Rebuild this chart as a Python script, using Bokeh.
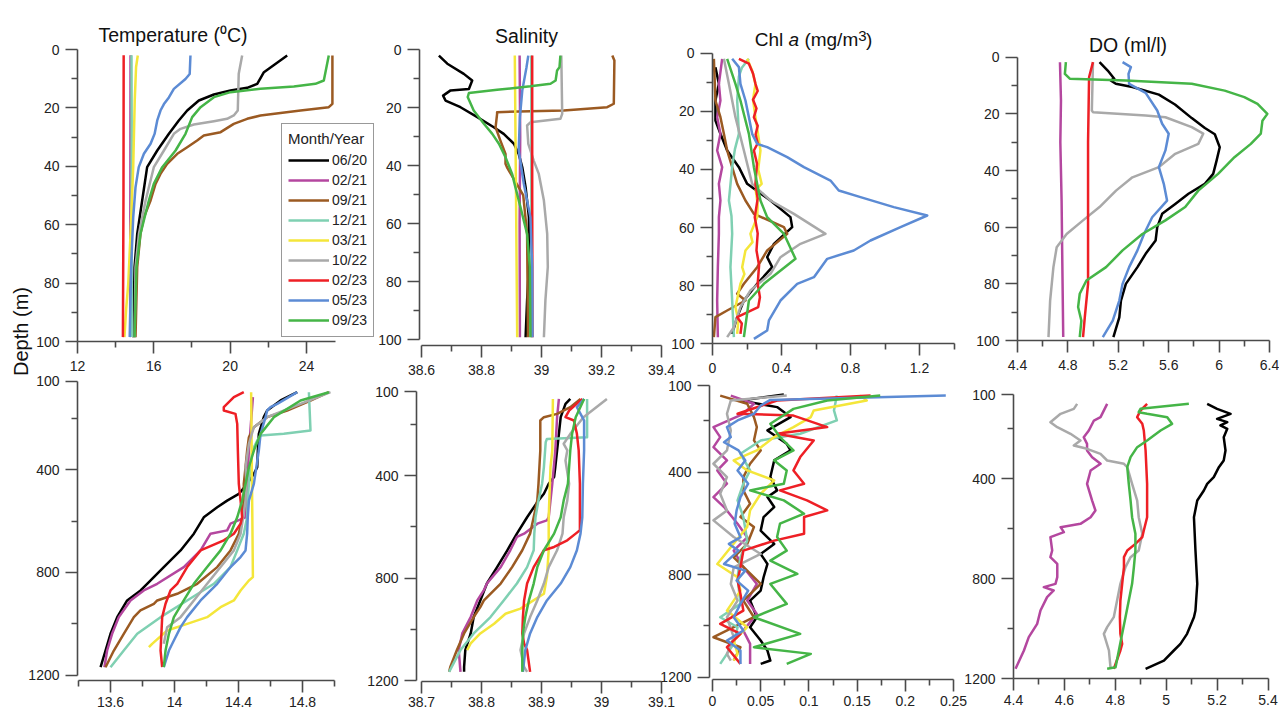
import math
from bokeh.plotting import figure
from bokeh.models import (Range1d, LinearAxis, FixedTicker, PrintfTickFormatter,
                          Legend, LegendItem, Label)
from bokeh.embed import file_html
from bokeh.resources import INLINE

# ---------------------------------------------------------------- series
MONTHS = ["06/20", "02/21", "09/21", "12/21", "03/21", "10/22", "02/23", "05/23", "09/23"]
COLORS = ["#000000", "#b4479f", "#9b5a22", "#7fd0b2", "#f4e63a",
          "#a9a9a9", "#ee1f25", "#5c8bd4", "#45b547"]

# (depth m, value) pairs
# --- Temperature 0-100 m
T_UP_0620 = [(2.05, 22.99), (7.76, 21.77), (11.76, 21.42), (13.13, 20.89), (14.0, 20.02), (15.41, 19.15),
             (17.47, 18.36), (20.89, 17.75), (24.32, 17.31), (28.88, 16.79), (34.59, 16.18), (40.3, 15.65),
             (51.71, 15.39), (63.13, 15.13), (74.54, 14.99), (98.52, 14.92)]
T_UP_0221 = [(2.0, 14.78), (50.0, 14.77), (98.5, 14.76)]
T_UP_0921 = [(2.05, 25.36), (18.6, 25.36), (19.75, 25.17), (20.89, 23.69), (22.6, 21.59), (23.74, 20.89),
             (25.46, 20.19), (28.31, 19.5), (29.45, 18.62), (31.16, 18.27), (33.45, 17.75), (35.73, 17.23),
             (39.16, 16.7), (42.58, 16.35), (46.0, 16.09), (51.71, 15.83), (57.42, 15.48), (63.13, 15.3),
             (74.54, 15.13), (98.52, 15.04)]
T_UP_1221 = [(2.0, 14.83), (30.0, 14.84), (60.0, 14.83), (98.5, 14.85)]
T_UP_0321 = [(2.05, 15.16), (6.0, 15.07), (17.5, 15.0), (40.3, 14.92), (63.1, 14.78), (80.3, 14.66),
             (88.9, 14.55), (98.5, 14.46)]
T_UP_1022 = [(2.05, 20.63), (8.33, 20.45), (20.89, 20.4), (22.6, 20.19), (23.74, 19.84), (24.54, 19.15),
             (25.68, 18.1), (27.17, 17.4), (28.88, 17.05), (34.59, 16.53), (40.3, 16.0), (51.71, 15.57),
             (63.13, 15.22), (74.54, 15.04), (98.52, 14.99)]
T_UP_0223 = [(2.0, 14.42), (50.0, 14.41), (98.5, 14.38)]
T_UP_0523 = [(2.05, 17.92), (8.4, 17.88), (10.1, 17.66), (13.5, 17.05), (16.4, 16.79), (18.7, 16.53),
             (20.9, 16.35), (24.3, 16.18), (28.9, 16.04), (32.3, 15.83), (35.7, 15.48), (40.3, 15.21),
             (47.2, 15.04), (57.5, 14.92), (74.6, 14.81), (98.5, 14.74)]
T_UP_0923 = [(2.05, 25.17), (10.62, 24.91), (11.76, 24.47), (12.67, 23.34), (13.47, 21.59), (14.61, 20.02),
             (16.32, 19.15), (19.75, 18.45), (23.17, 18.01), (28.88, 17.66), (34.59, 17.14), (40.3, 16.44),
             (46.0, 16.0), (51.71, 15.74), (63.13, 15.3), (74.54, 15.09), (98.52, 14.99)]

# --- Salinity 0-100 m
S_UP_0620 = [(2.0, 38.658), (4.8, 38.686), (8.3, 38.741), (10.6, 38.769), (13.5, 38.758), (14.0, 38.697),
             (15.8, 38.672), (17.5, 38.68), (19.8, 38.73), (23.2, 38.786), (26.7, 38.841), (29.0, 38.874),
             (32.4, 38.908), (35.9, 38.924), (40.5, 38.936), (47.4, 38.947), (57.7, 38.958), (74.9, 38.958),
             (86.4, 38.952), (99.1, 38.947)]
S_UP_0221 = [(2.0, 38.927), (30.0, 38.929), (60.0, 38.927), (99.1, 38.928)]
S_UP_0921 = [(2.0, 39.236), (3.7, 39.243), (18.6, 39.241), (19.8, 39.219), (20.9, 39.074), (21.5, 38.852),
             (22.1, 38.852), (26.7, 38.847), (31.3, 38.863), (35.9, 38.88), (39.3, 38.88), (40.5, 38.885),
             (50.1, 38.939), (63.5, 38.952), (99.1, 38.955)]
S_UP_1221 = [(2.0, 38.966), (99.1, 38.966)]
S_UP_0321 = [(2.0, 38.911), (50.0, 38.915), (99.1, 38.919)]
S_UP_1022 = [(2.0, 39.066), (22.1, 39.069), (23.8, 39.063), (25.0, 38.963), (26.1, 38.952), (32.4, 38.956),
             (38.2, 38.974), (42.8, 38.991), (52.0, 39.008), (63.5, 39.019), (74.9, 39.021), (86.4, 39.013),
             (99.1, 39.008)]
S_UP_0223 = [(2.0, 38.969), (50.0, 38.969), (99.1, 38.97)]
S_UP_0523 = [(2.0, 38.956), (6.0, 38.95), (14.0, 38.936), (23.2, 38.928), (34.7, 38.924), (46.2, 38.941),
             (57.7, 38.963), (74.9, 38.969), (99.1, 38.97)]
S_UP_0923 = [(2.0, 39.063), (6.0, 39.06), (7.1, 39.052), (10.6, 39.047), (11.7, 39.03), (12.6, 38.963),
             (13.8, 38.852), (14.9, 38.758), (16.3, 38.754), (20.9, 38.774), (25.5, 38.808), (29.0, 38.836),
             (32.4, 38.858), (37.0, 38.88), (42.8, 38.902), (47.4, 38.913), (54.3, 38.93), (63.5, 38.952),
             (74.9, 38.961), (99.1, 38.963)]

# --- Chl a 0-100 m
C_UP_0620 = [(4.8, 0.017), (10.54, 0.037), (16.28, 0.017), (23.2, 0.017), (27.75, 0.046), (33.48, 0.085),
             (39.22, 0.153), (44.95, 0.201), (50.69, 0.336), (56.42, 0.452), (59.86, 0.462), (65.6, 0.356),
             (70.19, 0.317), (73.63, 0.346), (79.36, 0.259), (85.1, 0.182), (90.83, 0.143), (96.57, 0.114)]
C_UP_0221 = [(1.94, 0.056), (10.54, 0.037), (16.28, 0.046), (22.01, 0.027), (27.75, 0.046), (33.48, 0.027),
             (39.22, 0.056), (44.95, 0.037), (50.69, 0.046), (56.42, 0.037), (62.16, 0.037), (73.63, 0.031),
             (85.1, 0.027), (97.72, 0.031)]
C_UP_0921 = [(1.94, 0.008), (16.28, 0.017), (22.01, 0.046), (27.75, 0.066), (33.48, 0.085), (39.22, 0.114),
             (44.95, 0.143), (50.69, 0.191), (55.28, 0.24), (59.86, 0.414), (62.16, 0.433), (67.89, 0.317),
             (73.63, 0.259), (79.36, 0.182), (82.8, 0.143), (85.1, 0.191), (88.54, 0.085), (90.83, 0.017),
             (97.72, 0.008)]
C_UP_1221 = [(1.94, 0.211), (5.0, 0.17), (8.0, 0.153), (16.28, 0.143), (27.75, 0.153), (33.0, 0.13),
             (39.22, 0.114), (50.69, 0.095), (56.0, 0.11), (62.16, 0.114), (73.63, 0.104), (85.1, 0.114),
             (97.72, 0.124)]
C_UP_0321 = [(1.94, 0.201), (6.0, 0.23), (10.54, 0.249), (16.0, 0.235), (22.01, 0.249), (27.0, 0.262),
             (33.48, 0.278), (40.0, 0.265), (44.95, 0.285), (47.0, 0.25), (52.0, 0.262), (56.42, 0.259),
             (62.16, 0.22), (65.0, 0.232), (67.89, 0.191), (73.63, 0.172), (76.0, 0.185), (79.36, 0.162),
             (87.39, 0.133), (92.0, 0.15), (96.57, 0.143)]
C_UP_0223 = [(1.94, 0.153), (3.6, 0.211), (7.0, 0.235), (10.54, 0.249), (13.0, 0.262), (16.0, 0.235),
             (19.0, 0.255), (22.01, 0.24), (25.0, 0.262), (28.0, 0.25), (31.0, 0.262), (33.48, 0.24),
             (38.0, 0.258), (44.95, 0.249), (50.0, 0.262), (56.42, 0.245), (62.0, 0.262), (67.89, 0.255),
             (73.0, 0.27), (79.36, 0.262), (84.0, 0.275), (87.39, 0.265), (90.83, 0.143), (93.0, 0.17),
             (96.57, 0.162)]
C_UP_1022 = [(1.94, 0.066), (10.54, 0.095), (22.01, 0.133), (33.48, 0.182), (44.95, 0.23), (50.69, 0.336),
             (55.28, 0.472), (62.16, 0.655), (65.6, 0.51), (70.19, 0.394), (75.92, 0.336), (81.66, 0.22),
             (87.39, 0.162), (94.28, 0.124), (97.72, 0.085)]
C_UP_0523 = [(1.94, 0.114), (4.8, 0.153), (10.54, 0.162), (16.28, 0.191), (22.01, 0.211), (27.75, 0.23),
             (31.19, 0.259), (32.34, 0.317), (35.78, 0.433), (39.22, 0.53), (43.81, 0.684), (47.25, 0.732),
             (49.54, 0.858), (52.98, 1.051), (55.85, 1.245), (59.86, 1.09), (64.45, 0.916), (67.89, 0.819),
             (70.76, 0.665), (77.07, 0.588), (79.36, 0.491), (85.1, 0.394), (91.98, 0.327), (95.42, 0.317),
             (98.29, 0.24)]
C_UP_0923 = [(1.94, 0.085), (10.54, 0.133), (16.28, 0.162), (27.75, 0.211), (39.22, 0.24), (50.69, 0.278),
             (56.42, 0.317), (62.16, 0.414), (70.76, 0.481), (79.36, 0.298), (85.1, 0.211), (97.72, 0.182)]

# --- DO 0-100 m
D_UP_0620 = [(1.76, 5.051), (4.7, 5.116), (7.6, 5.168), (8.2, 5.14), (9.4, 5.18), (10.5, 5.312), (13.2, 5.522),
             (16.7, 5.65), (21.5, 5.783), (25.0, 5.887), (27.2, 5.966), (31.8, 6.005), (36.5, 5.98),
             (41.2, 5.953), (44.7, 5.887), (48.2, 5.757), (51.8, 5.652), (55.3, 5.548), (60.0, 5.509),
             (64.7, 5.496), (69.4, 5.417), (74.1, 5.352), (80.0, 5.26), (85.9, 5.221), (91.8, 5.208),
             (98.8, 5.161)]
D_UP_0221 = [(1.76, 4.737), (15.3, 4.745), (30.0, 4.74), (50.6, 4.75), (70.0, 4.755), (98.8, 4.763)]
D_UP_1022 = [(1.76, 4.999), (18.8, 4.99), (19.4, 5.0), (20.6, 5.417), (21.2, 5.574), (24.7, 5.783),
             (27.0, 5.874), (30.6, 5.835), (34.1, 5.652), (38.8, 5.522), (42.4, 5.312), (47.1, 5.182),
             (52.9, 5.051), (57.6, 4.92), (62.4, 4.79), (67.1, 4.711), (74.1, 4.685), (85.9, 4.659),
             (98.8, 4.646)]
D_UP_0223 = [(1.76, 4.999), (7.06, 4.968), (30.0, 4.96), (80.0, 4.96), (91.8, 4.934), (98.8, 4.92)]
D_UP_0523 = [(1.76, 5.234), (3.5, 5.3), (5.9, 5.281), (9.4, 5.286), (12.6, 5.417), (18.8, 5.509),
             (23.5, 5.548), (27.0, 5.6), (32.9, 5.574), (38.8, 5.522), (44.7, 5.561), (50.6, 5.587),
             (56.5, 5.469), (62.4, 5.404), (68.2, 5.352), (74.1, 5.286), (80.0, 5.234), (85.9, 5.208),
             (93.0, 5.156), (98.8, 5.077)]
D_UP_0923 = [(1.76, 4.784), (5.9, 4.776), (7.6, 4.815), (8.2, 5.26), (9.4, 5.783), (11.8, 6.044),
             (14.1, 6.2), (16.5, 6.305), (20.0, 6.383), (22.4, 6.344), (27.0, 6.331), (30.6, 6.252),
             (35.3, 6.122), (41.2, 5.992), (47.1, 5.835), (52.9, 5.731), (57.6, 5.574), (62.4, 5.391),
             (68.2, 5.234), (74.1, 5.103), (78.8, 4.947), (83.5, 4.894), (88.2, 4.881), (93.0, 4.907),
             (98.8, 4.894)]

# --- Temperature 100-1200 m
T_LO_0620 = [(97.7, 14.767), (130, 14.663), (169, 14.579), (195, 14.558), (260, 14.527), (325, 14.521),
             (390, 14.517), (416, 14.496), (455, 14.454), (494, 14.402), (520, 14.329), (546, 14.267),
             (585, 14.183), (649, 14.121), (714, 14.038), (779, 13.933), (844, 13.829), (870, 13.788),
             (909, 13.704), (974, 13.642), (1039, 13.6), (1104, 13.569), (1169, 13.538)]
T_LO_0221 = [(117, 14.49), (325, 14.465), (455, 14.454), (585, 14.444), (610, 14.35), (636, 14.329),
             (649, 14.225), (714, 14.163), (779, 14.058), (844, 13.892), (870, 13.808), (909, 13.725),
             (974, 13.652), (1039, 13.61), (1104, 13.579), (1169, 13.562)]
T_LO_0921 = [(97.7, 14.965), (130, 14.85), (169, 14.704), (195, 14.579), (234, 14.496), (273, 14.465),
             (325, 14.454), (390, 14.444), (455, 14.433), (520, 14.433), (585, 14.423), (649, 14.402),
             (714, 14.35), (779, 14.267), (844, 14.142), (883, 14.017), (909, 13.892), (922, 13.871),
             (948, 13.787), (974, 13.746), (1039, 13.683), (1104, 13.621), (1169, 13.569)]
T_LO_1221 = [(97.7, 14.84), (247, 14.85), (260, 14.683), (266, 14.538), (286, 14.517), (325, 14.486),
             (390, 14.475), (455, 14.465), (520, 14.458), (585, 14.454), (649, 14.433), (714, 14.392),
             (779, 14.35), (844, 14.246), (909, 14.079), (974, 13.913), (1039, 13.767), (1104, 13.683),
             (1169, 13.6)]
T_LO_0321 = [(97.7, 14.479), (818, 14.49), (831, 14.465), (870, 14.413), (909, 14.371), (935, 14.288),
             (974, 14.204), (1000, 14.079), (1026, 13.954), (1078, 13.86), (1091, 13.84)]
T_LO_1022 = [(97.7, 14.975), (143, 14.788), (195, 14.579), (234, 14.496), (299, 14.465), (390, 14.444),
             (455, 14.45), (520, 14.444), (585, 14.429), (649, 14.413), (714, 14.371), (779, 14.288),
             (844, 14.204), (909, 14.121), (974, 14.038), (1013, 13.954), (1078, 13.933)]
T_LO_0223 = [(97.7, 14.433), (117, 14.371), (156, 14.308), (169, 14.308), (182, 14.381), (221, 14.392),
             (325, 14.396), (455, 14.402), (520, 14.413), (585, 14.423), (610, 14.413), (649, 14.371),
             (675, 14.308), (714, 14.163), (779, 14.079), (844, 14.017), (870, 13.975), (922, 13.944),
             (974, 13.923), (1104, 13.913), (1169, 13.923)]
T_LO_0523 = [(97.7, 14.767), (143, 14.642), (156, 14.6), (169, 14.579), (195, 14.569), (260, 14.538),
             (325, 14.527), (455, 14.496), (520, 14.465), (585, 14.458), (649, 14.454), (714, 14.444),
             (740, 14.413), (779, 14.35), (844, 14.267), (909, 14.163), (974, 14.079), (1013, 14.038),
             (1065, 13.996), (1104, 13.965), (1169, 13.933)]
T_LO_0923 = [(97.7, 14.965), (130, 14.788), (195, 14.621), (260, 14.538), (325, 14.496), (390, 14.465),
             (455, 14.444), (520, 14.423), (585, 14.392), (649, 14.35), (714, 14.288), (779, 14.204),
             (844, 14.121), (909, 14.058), (974, 13.996), (1039, 13.965), (1104, 13.944), (1169, 13.933)]

# --- Salinity 100-1200 m
S_LO_0620 = [(99.6, 38.948), (119, 38.94), (171, 38.932), (236, 38.929), (301, 38.926), (366, 38.923),
             (405, 38.921), (431, 38.912), (470, 38.904), (496, 38.895), (562, 38.876), (626, 38.859),
             (691, 38.843), (757, 38.826), (821, 38.809), (887, 38.798), (952, 38.787), (1016, 38.782),
             (1081, 38.773), (1147, 38.771), (1166, 38.771)]
S_LO_0221 = [(99.6, 38.929), (171, 38.926), (301, 38.923), (431, 38.918), (496, 38.915), (562, 38.912),
             (574, 38.909), (587, 38.893), (626, 38.871), (639, 38.859), (691, 38.848), (757, 38.832),
             (821, 38.809), (847, 38.804), (887, 38.793), (952, 38.782), (1016, 38.768), (1081, 38.762),
             (1166, 38.765)]
S_LO_0921 = [(99.6, 38.965), (132, 38.948), (158, 38.926), (171, 38.904), (184, 38.898), (236, 38.898),
             (301, 38.898), (431, 38.895), (496, 38.893), (562, 38.887), (626, 38.881), (691, 38.868),
             (757, 38.851), (821, 38.832), (887, 38.804), (913, 38.798), (952, 38.787), (1016, 38.771),
             (1081, 38.759), (1147, 38.748), (1166, 38.746)]
S_LO_1221 = [(99.6, 38.976), (249, 38.976), (256, 38.909), (269, 38.907), (366, 38.904), (431, 38.901),
             (496, 38.895), (562, 38.89), (626, 38.888), (691, 38.887), (757, 38.876), (821, 38.859),
             (887, 38.837), (952, 38.815), (1016, 38.787), (1081, 38.765), (1166, 38.746)]
S_LO_0321 = [(99.6, 38.919), (301, 38.918), (366, 38.915), (431, 38.914), (562, 38.912), (691, 38.912),
             (795, 38.909), (861, 38.904), (919, 38.865), (939, 38.84), (978, 38.821), (1016, 38.798),
             (1055, 38.782), (1081, 38.776)]
S_LO_1022 = [(99.6, 39.009), (171, 38.97), (236, 38.948), (275, 38.937), (301, 38.943), (340, 38.94),
             (431, 38.946), (496, 38.943), (562, 38.937), (626, 38.935), (691, 38.926), (757, 38.912),
             (821, 38.904), (887, 38.893), (952, 38.881), (1016, 38.871), (1081, 38.865), (1147, 38.871),
             (1166, 38.876)]
S_LO_0223 = [(99.6, 38.968), (145, 38.946), (171, 38.94), (184, 38.954), (236, 38.959), (301, 38.962),
             (431, 38.964), (562, 38.964), (613, 38.964), (626, 38.957), (652, 38.943), (678, 38.921),
             (691, 38.904), (757, 38.887), (821, 38.876), (887, 38.871), (952, 38.869), (1016, 38.868),
             (1055, 38.871), (1081, 38.876), (1166, 38.881)]
S_LO_0523 = [(99.6, 38.971), (132, 38.959), (171, 38.968), (184, 38.971), (236, 38.971), (301, 38.971),
             (431, 38.969), (562, 38.968), (626, 38.965), (691, 38.959), (757, 38.948), (821, 38.932),
             (887, 38.909), (952, 38.893), (1016, 38.881), (1081, 38.873), (1166, 38.869)]
S_LO_0923 = [(99.6, 38.971), (171, 38.957), (236, 38.951), (301, 38.948), (431, 38.944), (496, 38.937),
             (562, 38.932), (626, 38.921), (691, 38.904), (757, 38.893), (821, 38.887), (887, 38.879),
             (952, 38.873), (1016, 38.869), (1081, 38.868), (1166, 38.868)]

# --- Chl a 100-1200 m
C_LO_0620 = [(97, 0.074), (120, 0.029), (146, 0.067), (185, 0.081), (237, 0.057), (289, 0.077), (315, 0.081),
             (354, 0.064), (419, 0.06), (471, 0.067), (497, 0.057), (536, 0.064), (575, 0.053), (628, 0.05),
             (680, 0.064), (719, 0.05), (758, 0.057), (810, 0.053), (862, 0.05), (901, 0.039), (966, 0.046),
             (1005, 0.039), (1057, 0.05), (1096, 0.057), (1135, 0.06), (1148, 0.05)]
C_LO_0221 = [(101, 0.019), (133, 0.043), (172, 0.032), (224, 0.001), (263, 0.008), (302, 0.001), (354, 0.015),
             (393, 0.005), (445, 0.015), (497, 0.001), (536, 0.012), (601, 0.026), (654, 0.036), (706, 0.022),
             (771, 0.032), (836, 0.046), (901, 0.036), (953, 0.046), (1018, 0.032), (1070, 0.039),
             (1148, 0.039)]
C_LO_0921 = [(101, 0.008), (133, 0.036), (185, 0.043), (224, 0.046), (276, 0.043), (315, 0.05), (367, 0.039),
             (419, 0.032), (471, 0.032), (523, 0.039), (575, 0.029), (614, 0.043), (680, 0.036), (732, 0.022),
             (784, 0.036), (836, 0.05), (901, 0.032), (966, 0.043), (1044, 0.001), (1083, 0.029),
             (1135, 0.022)]
C_LO_1221 = [(101, 0.129), (159, 0.126), (198, 0.129), (250, 0.091), (276, 0.05), (328, 0.029), (393, 0.039),
             (445, 0.032), (510, 0.026), (575, 0.032), (667, 0.036), (732, 0.029), (810, 0.026), (914, 0.029),
             (966, 0.008), (1005, 0.026), (1070, 0.022), (1148, 0.008)]
C_LO_0321 = [(101, 0.153), (120, 0.16), (159, 0.105), (185, 0.102), (224, 0.084), (263, 0.064), (315, 0.046),
             (354, 0.022), (393, 0.036), (432, 0.064), (484, 0.05), (549, 0.039), (614, 0.036), (693, 0.019),
             (758, 0.005), (810, 0.026), (862, 0.029), (940, 0.015), (1005, 0.036), (1057, 0.022),
             (1109, 0.026), (1135, 0.022)]
C_LO_1022 = [(101, 0.077), (120, 0.019), (172, 0.015), (237, 0.019), (315, 0.015), (367, 0.001), (419, 0.015),
             (484, 0.008), (549, 0.015), (588, 0.001), (653, 0.022), (719, 0.05), (771, 0.022), (836, 0.019),
             (901, 0.026), (966, 0.015), (1044, 0.022), (1109, 0.015), (1135, 0.019)]
C_LO_0223 = [(101, 0.164), (120, 0.067), (172, 0.026), (179, 0.084), (224, 0.119), (250, 0.067), (276, 0.105),
             (341, 0.091), (393, 0.084), (445, 0.095), (471, 0.07), (510, 0.098), (549, 0.119), (575, 0.095),
             (640, 0.095), (667, 0.064), (706, 0.032), (771, 0.029), (823, 0.026), (875, 0.029), (940, 0.032),
             (992, 0.008), (1031, 0.029), (1083, 0.015), (1148, 0.029)]
C_LO_0523 = [(101, 0.242), (118, 0.06), (140, 0.05), (172, 0.043), (198, 0.026), (224, 0.015), (263, 0.019),
             (283, 0.012), (315, 0.027), (354, 0.034), (393, 0.026), (445, 0.037), (497, 0.029), (549, 0.025),
             (601, 0.023), (654, 0.029), (680, 0.017), (706, 0.027), (758, 0.012), (784, 0.034), (823, 0.025),
             (862, 0.037), (914, 0.029), (966, 0.022), (1018, 0.032), (1057, 0.015), (1096, 0.029),
             (1148, 0.029)]
C_LO_0923 = [(101, 0.174), (120, 0.119), (153, 0.084), (211, 0.06), (263, 0.07), (315, 0.084), (354, 0.064),
             (393, 0.077), (445, 0.074), (471, 0.039), (510, 0.074), (562, 0.095), (601, 0.07), (653, 0.067),
             (706, 0.077), (745, 0.06), (797, 0.088), (836, 0.06), (914, 0.077), (966, 0.043), (1031, 0.091),
             (1083, 0.043), (1109, 0.102), (1148, 0.077)]

# --- DO 100-1200 m
D_LO_0620 = [(101.8, 5.161), (121.8, 5.2), (141.7, 5.253), (161.7, 5.2), (175, 5.24), (188.3, 5.213),
             (201.7, 5.24), (234.9, 5.226), (288.2, 5.233), (328.1, 5.226), (354.8, 5.207), (394.7, 5.187),
             (421.3, 5.161), (447.9, 5.148), (488, 5.122), (554.5, 5.109), (687.6, 5.115), (820.7, 5.122),
             (927.2, 5.115), (953.8, 5.109), (1020.4, 5.082), (1060.4, 5.056), (1087, 5.03), (1127, 4.991),
             (1160.2, 4.919)]
D_LO_0221 = [(101.8, 4.768), (155, 4.742), (168.4, 4.716), (208.3, 4.696), (235, 4.676), (261.6, 4.689),
             (288.2, 4.689), (314.8, 4.709), (341.4, 4.742), (368, 4.703), (421.3, 4.689), (488, 4.709),
             (527.8, 4.722), (554.5, 4.703), (581.1, 4.663), (594.4, 4.585), (614.4, 4.598), (634.3, 4.545),
             (687.6, 4.552), (714.2, 4.545), (740.8, 4.572), (794.1, 4.572), (820.7, 4.565), (834, 4.519),
             (847.3, 4.558), (874, 4.532), (927.2, 4.506), (980.5, 4.493), (1033.7, 4.46), (1087, 4.441),
             (1160.2, 4.408)]
D_LO_1022 = [(101.8, 4.65), (121.8, 4.637), (141.7, 4.585), (175, 4.545), (195, 4.572), (221.6, 4.624),
             (248.3, 4.663), (268.2, 4.637), (281.5, 4.689), (301.5, 4.742), (328.1, 4.768), (341.4, 4.834),
             (354.8, 4.847), (421.3, 4.866), (488, 4.886), (554.5, 4.892), (621, 4.906), (687.6, 4.892),
             (714.2, 4.86), (754, 4.84), (820.7, 4.82), (887.3, 4.807), (953.8, 4.794), (993.8, 4.768),
             (1020.4, 4.755), (1087, 4.775), (1153.5, 4.781)]
D_LO_0223 = [(101.8, 4.925), (128.4, 4.899), (155, 4.886), (181.7, 4.906), (208.3, 4.912), (288.2, 4.919),
             (421.3, 4.925), (554.5, 4.925), (607.7, 4.912), (634.3, 4.906), (661, 4.879), (687.6, 4.847),
             (714.2, 4.834), (754, 4.834), (820.7, 4.827), (887.3, 4.82), (953.8, 4.818), (1020.4, 4.82),
             (1060.4, 4.827), (1087, 4.82), (1160.2, 4.794)]
D_LO_0923 = [(101.8, 5.089), (121.8, 4.899), (135.1, 4.892), (141.7, 4.925), (155, 5.004), (181.7, 5.023),
             (208.3, 4.978), (248.3, 4.925), (274.9, 4.886), (314.8, 4.86), (354.8, 4.847), (421.3, 4.853),
             (488, 4.86), (554.5, 4.866), (621, 4.879), (687.6, 4.879), (754, 4.873), (820.7, 4.866),
             (887.3, 4.853), (953.8, 4.84), (1020.4, 4.827), (1087, 4.814), (1153.5, 4.801), (1160.2, 4.768)]

# ---------------------------------------------------------------- tick values
T_UP_XT, T_UP_XM = [12, 16, 20, 24], [14, 18, 22]
S_UP_XT, S_UP_XM = [38.6, 38.8, 39.0, 39.2, 39.4], [38.7, 38.9, 39.1, 39.3]
C_UP_XT, C_UP_XM = [0, 0.4, 0.8, 1.2], [0.2, 0.6, 1.0, 1.4]
D_UP_XT, D_UP_XM = [4.4, 4.8, 5.2, 5.6, 6.0, 6.4], [4.6, 5.0, 5.4, 5.8, 6.2]
T_LO_XT, T_LO_XM = [13.6, 14.0, 14.4, 14.8], [13.4, 13.8, 14.2, 14.6, 15.0]
S_LO_XT, S_LO_XM = [38.7, 38.8, 38.9, 39.0, 39.1], [38.75, 38.85, 38.95, 39.05]
C_LO_XT, C_LO_XM = [0, 0.05, 0.1, 0.15, 0.2, 0.25], [0.025, 0.075, 0.125, 0.175, 0.225]
D_LO_XT, D_LO_XM = [4.4, 4.6, 4.8, 5.0, 5.2, 5.4], [4.5, 4.7, 4.9, 5.1, 5.3]
UP_YT, UP_YM = [0, 20, 40, 60, 80, 100], [10, 30, 50, 70, 90]
LO_YT, LO_YM = [400, 800, 1200], [200, 600, 1000]
LO_TOP_LABEL = "100"

# ---------------------------------------------------------------- layout (pixels)
W, H = 1279, 711
PX0, PX1, PY0, PY1 = 0, W, 0, H
DY = 0
AX_COLOR = "#4a4a4a"
FONT = "Liberation Sans"


def xrange_for(m):
    a, pa, k = m
    return Range1d(a - (pa - PX0) / k, a + (PX1 - pa) / k)


def yrange_for(m):
    d0, p0, k = m
    p0 = p0 + DY
    return Range1d(d0 + (PY1 - p0) / k, d0 + (PY0 - p0) / k)


def xval(m, px):
    a, pa, k = m
    return a + (px - pa) / k


def yval(m, py):
    d0, p0, k = m
    return d0 + (py - p0) / k


PANELS = [
    dict(name="tu", xm=(12, 77, 19.08), ym=(0, 49, 2.92), ypx=77, xpy=341, xb=(12, 25.5),
         xt=T_UP_XT, xmn=T_UP_XM, upper=True, series=[T_UP_0620, T_UP_0221, T_UP_0921, T_UP_1221, T_UP_0321,
                                                        T_UP_1022, T_UP_0223, T_UP_0523, T_UP_0923]),
    dict(name="su", xm=(38.6, 421, 300), ym=(0, 49.3, 2.9), ypx=419, xpy=345, xb=(38.6, 39.4),
         xt=S_UP_XT, xmn=S_UP_XM, upper=True, series=[S_UP_0620, S_UP_0221, S_UP_0921, S_UP_1221, S_UP_0321,
                                                        S_UP_1022, S_UP_0223, S_UP_0523, S_UP_0923]),
    dict(name="cu", xm=(0, 712, 172.5), ym=(0, 52.7, 2.906), ypx=712, xpy=343.3, xb=(0, 1.4),
         xt=C_UP_XT, xmn=C_UP_XM, upper=True, series=[C_UP_0620, C_UP_0221, C_UP_0921, C_UP_1221, C_UP_0321,
                                                        C_UP_1022, C_UP_0223, C_UP_0523, C_UP_0923]),
    dict(name="du", xm=(4.4, 1017, 126), ym=(0, 56.7, 2.833), ypx=1017, xpy=340, xb=(4.4, 6.4),
         xt=D_UP_XT, xmn=D_UP_XM, upper=True, series=[D_UP_0620, D_UP_0221, None, None, None,
                                                        D_UP_1022, D_UP_0223, D_UP_0523, D_UP_0923]),
    dict(name="tl", xm=(13.6, 110, 160), ym=(400, 469.3, 0.2567), ypx=77, xpy=680, xb=(13.4, 15.0), top=380.7,
         xt=T_LO_XT, xmn=T_LO_XM, upper=False, series=[T_LO_0620, T_LO_0221, T_LO_0921, T_LO_1221, T_LO_0321,
                                                         T_LO_1022, T_LO_0223, T_LO_0523, T_LO_0923]),
    dict(name="sl", xm=(38.7, 421, 600), ym=(400, 475.3, 0.2559), ypx=416, xpy=680.7, xb=(38.7, 39.1), top=391,
         xt=S_LO_XT, xmn=S_LO_XM, upper=False, series=[S_LO_0620, S_LO_0221, S_LO_0921, S_LO_1221, S_LO_0321,
                                                         S_LO_1022, S_LO_0223, S_LO_0523, S_LO_0923]),
    dict(name="cl", xm=(0, 712, 964), ym=(400, 471.7, 0.25625), ypx=709, xpy=679.3, xb=(0, 0.25), top=385,
         xt=C_LO_XT, xmn=C_LO_XM, upper=False, series=[C_LO_0620, C_LO_0221, C_LO_0921, C_LO_1221, C_LO_0321,
                                                         C_LO_1022, C_LO_0223, C_LO_0523, C_LO_0923]),
    dict(name="dl", xm=(4.4, 1013, 254.5), ym=(400, 478, 0.25037), ypx=1013, xpy=678.3, xb=(4.4, 5.4), top=394.3,
         xt=D_LO_XT, xmn=D_LO_XM, upper=False, series=[D_LO_0620, D_LO_0221, None, None, None,
                                                         D_LO_1022, D_LO_0223, None, D_LO_0923]),
]

p = figure(width=W, height=H, x_range=Range1d(PX0, PX1), y_range=Range1d(PY1, PY0),
           x_axis_type=None, y_axis_type=None, toolbar_location=None, output_backend="svg",
           min_border=0, outline_line_color=None)

for pn in PANELS:
    p.extra_x_ranges[pn["name"]] = xrange_for(pn["xm"])
    p.extra_y_ranges[pn["name"]] = yrange_for(pn["ym"])


def style_axis(ax, standoff):
    ax.axis_line_color = AX_COLOR
    ax.axis_line_width = 1.6
    ax.major_tick_line_color = AX_COLOR
    ax.major_tick_line_width = 1.6
    ax.minor_tick_line_color = AX_COLOR
    ax.minor_tick_line_width = 1.6
    ax.major_tick_in = 0
    ax.major_tick_out = 12
    ax.minor_tick_in = 0
    ax.minor_tick_out = 6
    ax.major_label_text_font = FONT
    ax.major_label_text_font_size = "14px"
    ax.major_label_text_color = "#222222"
    ax.major_label_standoff = standoff


legend_renderers = []
for pn in PANELS:
    nm = pn["name"]
    # x axis
    xax = LinearAxis(x_range_name=nm, y_range_name=nm, fixed_location=yval(pn["ym"], pn["xpy"]),
                     bounds=pn["xb"], ticker=FixedTicker(ticks=pn["xt"], minor_ticks=pn["xmn"]),
                     formatter=PrintfTickFormatter(format="%g"))
    style_axis(xax, 7 if pn["upper"] else 4)
    p.add_layout(xax, "below")
    # y axis
    if pn["upper"]:
        yt, ym, yb, over = UP_YT, UP_YM, (0, 100), {}
    else:
        top = yval(pn["ym"], pn["top"])
        yt, ym, yb, over = [top] + LO_YT, LO_YM, (top, 1200), {top: LO_TOP_LABEL}
    yax = LinearAxis(x_range_name=nm, y_range_name=nm, fixed_location=xval(pn["xm"], pn["ypx"]),
                     bounds=yb, ticker=FixedTicker(ticks=yt, minor_ticks=ym),
                     formatter=PrintfTickFormatter(format="%g"), major_label_overrides=over)
    style_axis(yax, 6)
    p.add_layout(yax, "left")
    # profiles
    for i, ser in enumerate(pn["series"]):
        if ser is None:
            continue
        depth = [d for d, v in ser]
        vals = [v for d, v in ser]
        r = p.line(x=vals, y=depth, x_range_name=nm, y_range_name=nm,
                   line_color=COLORS[i], line_width=2.5, line_join="round")
        if nm == "tu":
            legend_renderers.append((MONTHS[i], r))

legend = Legend(items=[LegendItem(label=m, renderers=[r]) for m, r in legend_renderers],
                location=(281 - PX0, PY1 - (337 + DY)), title="Month/Year",
                title_text_font=FONT, title_text_font_size="15px", title_text_font_style="normal",
                title_text_color="#222222", title_standoff=3,
                label_text_font=FONT, label_text_font_size="14px", label_text_color="#222222",
                glyph_width=41, glyph_height=20, label_height=20, label_standoff=3,
                spacing=0, padding=6, margin=0,
                border_line_color="#333333", border_line_width=1.2,
                background_fill_color="white", background_fill_alpha=1.0)
p.add_layout(legend)

# ---------------------------------------------------------------- titles
TFS = "19.5px"


def add_text(x, y, text, size=TFS, align="left", style="normal", angle=0.0, baseline="alphabetic"):
    p.add_layout(Label(x=x, y=y + DY, text=text, text_align=align, text_baseline=baseline,
                       text_font=FONT, text_font_size=size, text_font_style=style,
                       text_color="#111111", angle=angle))


add_text(172.5, 34, "Temperature (\u2070C)", align="center")
add_text(526, 35.5, "Salinity", align="center")
add_text(1127.5, 44, "DO (ml/l)", align="center")
add_text(754.2, 39, "Chl", size="19px")
add_text(788.0, 39, "a", size="19px", style="italic")
add_text(803.9, 39, "(mg/m", size="19px")
add_text(857.7, 35, "3", size="15px")
add_text(865.5, 39, ")", size="19px")
add_text(20, 331, "Depth (m)", size="20px", align="center", angle=math.pi / 2, baseline="middle")

open("out.html", "w").write(file_html(p, INLINE))
